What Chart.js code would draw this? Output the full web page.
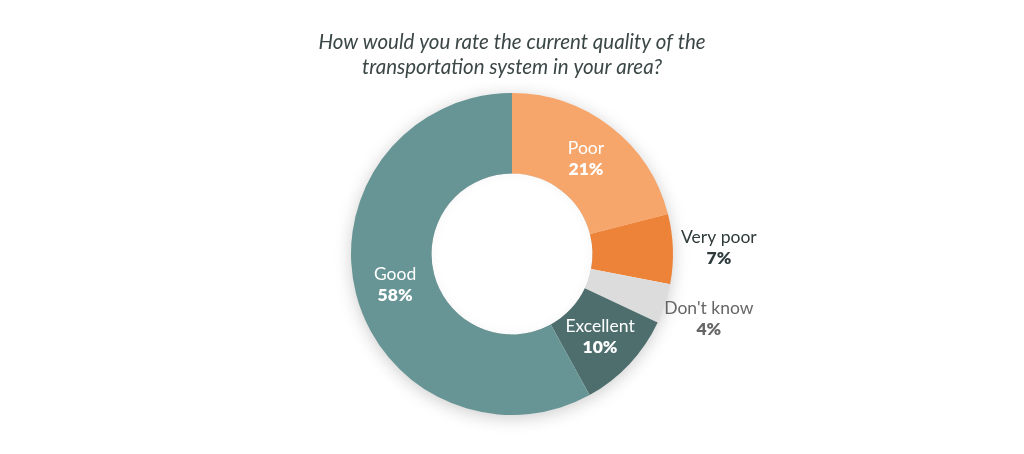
<!DOCTYPE html>
<html><head><meta charset="utf-8">
<script src="https://cdn.jsdelivr.net/npm/chart.js@4/dist/chart.umd.min.js"></script>
<style>html,body{margin:0;padding:0;background:#fff}#wrap{width:1024px;height:454px}</style>
</head><body><div id="wrap"><canvas id="c"></canvas></div>
<script>
const titleLines = ["How would you rate the current quality of the", "transportation system in your area?"];
const categories = ["Poor", "Very poor", "Don't know", "Excellent", "Good"];
const values = [21, 7, 4, 10, 58];
const colors = ["#F6A56B", "#EC8339", "#DCDCDC", "#4E6E6E", "#679494"];
const labelInside = [true, false, false, true, true];
const labelColors = ["#ffffff", "#2f3b3b", "#666666", "#ffffff", "#ffffff"];

const FONT = "Lato, 'Open Sans', sans-serif";

const shadowPlugin = {
  id: 'shadow',
  beforeDatasetsDraw(chart) {
    const arc = chart.getDatasetMeta(0).data[0];
    if (!arc) return;
    const ctx = chart.ctx;
    ctx.save();
    ctx.shadowColor = 'rgba(0,0,0,0.22)';
    ctx.shadowBlur = 18;
    ctx.shadowOffsetY = 3;
    ctx.fillStyle = '#ffffff';
    ctx.beginPath();
    ctx.arc(arc.x, arc.y, arc.outerRadius - 1, 0, Math.PI * 2);
    ctx.fill();
    ctx.restore();
  },
  afterDatasetsDraw(chart) {
    const arc = chart.getDatasetMeta(0).data[0];
    if (!arc) return;
    const ctx = chart.ctx;
    ctx.save();
    ctx.beginPath();
    ctx.arc(arc.x, arc.y, arc.innerRadius, 0, Math.PI * 2);
    ctx.clip();
    ctx.shadowColor = 'rgba(0,0,0,0.18)';
    ctx.shadowBlur = 12;
    ctx.lineWidth = 8;
    ctx.strokeStyle = 'rgba(0,0,0,0.25)';
    ctx.beginPath();
    ctx.arc(arc.x, arc.y, arc.innerRadius + 4, 0, Math.PI * 2);
    ctx.stroke();
    ctx.restore();
  }
};

const labelPlugin = {
  id: 'sliceLabels',
  afterDraw(chart) {
    const ctx = chart.ctx;
    const meta = chart.getDatasetMeta(0);
    meta.data.forEach((arc, i) => {
      const mid = (arc.startAngle + arc.endAngle) / 2;
      const r = labelInside[i] ? (arc.innerRadius + arc.outerRadius) / 2 : arc.outerRadius + 46;
      const x = arc.x + Math.cos(mid) * r;
      const y = arc.y + Math.sin(mid) * r;
      ctx.save();
      ctx.fillStyle = labelColors[i];
      ctx.textAlign = 'center';
      ctx.textBaseline = 'middle';
      ctx.font = "400 17.5px " + FONT;
      ctx.fillText(categories[i], x, y - 10);
      ctx.font = "800 17.5px " + FONT;
      ctx.fillText(values[i] + "%", x, y + 11);
      ctx.restore();
    });
  }
};

new Chart(document.getElementById('c'), {
  type: 'doughnut',
  data: {
    labels: categories,
    datasets: [{ data: values, backgroundColor: colors, borderWidth: 0, hoverOffset: 0 }]
  },
  options: {
    responsive: true,
    maintainAspectRatio: false,
    animation: false,
    cutout: '50%',
    layout: { padding: { top: 0, bottom: 39 } },
    plugins: {
      legend: { display: false },
      tooltip: { enabled: false },
      title: {
        display: true,
        text: titleLines,
        color: '#3b4646',
        font: { family: FONT, size: 20.5, style: 'italic', weight: '400', lineHeight: 1.22 },
        padding: { top: 30, bottom: 13 }
      }
    }
  },
  plugins: [shadowPlugin, labelPlugin]
});
</script>
</body></html>
